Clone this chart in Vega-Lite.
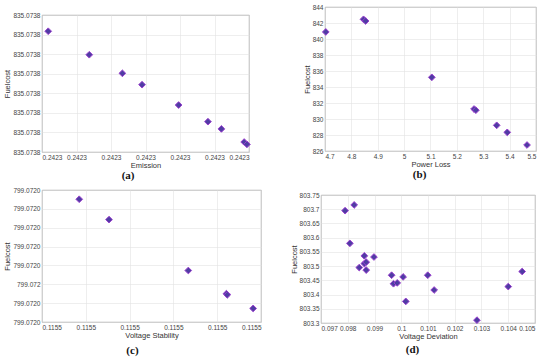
{
  "$schema": "https://vega.github.io/schema/vega-lite/v6.json",
  "padding": {"left": 3, "top": 3, "right": 5, "bottom": 0},
  "background": "white",
  "config": {
    "font": "Liberation Sans",
    "view": {"stroke": "#8a8a8a", "strokeWidth": 0.8},
    "axis": {
      "domain": false,
      "grid": true,
      "gridColor": "#e3e3e3",
      "gridWidth": 0.6,
      "ticks": false,
      "labelFontSize": 6.5,
      "labelColor": "#444",
      "labelPadding": 2,
      "titleFontSize": 7.5,
      "titleFontWeight": "normal",
      "titleColor": "#333",
      "titlePadding": 1
    },
    "title": {"font": "Liberation Serif", "fontSize": 11, "fontWeight": "bold", "color": "#111", "orient": "bottom", "offset": 1, "anchor": "middle"}
  },
  "vconcat": [
    {
      "concat": [
        {
          "title": {"text": "(a)", "orient": "bottom", "anchor": "middle", "offset": 1},
          "vconcat": [
            {"width": 1, "height": 1, "data": {"values": []}, "mark": "point", "view": {"stroke": null}},
            {
              "width": 207,
              "height": 137,
              "data": {"values": [
                {"Emission": 0.242300018, "Fuelcost": 835.07380617},
                {"Emission": 0.242300137, "Fuelcost": 835.07380497},
                {"Emission": 0.242300233, "Fuelcost": 835.07380402},
                {"Emission": 0.24230029, "Fuelcost": 835.07380344},
                {"Emission": 0.242300396, "Fuelcost": 835.0738024},
                {"Emission": 0.242300481, "Fuelcost": 835.07380155},
                {"Emission": 0.24230052, "Fuelcost": 835.07380118},
                {"Emission": 0.242300586, "Fuelcost": 835.07380051},
                {"Emission": 0.242300594, "Fuelcost": 835.07380039}
              ]},
              "mark": {"type": "point", "shape": "diamond", "filled": true, "size": 45, "color": "#4f3da3", "stroke": "#9b3fcf", "strokeWidth": 1, "opacity": 1},
              "encoding": {
                "x": {"field": "Emission", "type": "quantitative", "title": "Emission",
                      "scale": {"domain": [0.2423, 0.2423006], "nice": false, "zero": false},
                      "axis": {"values": [0.2423, 0.2423001, 0.2423002, 0.2423003, 0.2423004, 0.2423005, 0.2423006], "format": ".4f"}},
                "y": {"field": "Fuelcost", "type": "quantitative", "title": "Fuelcost",
                      "scale": {"domain": [835.0738, 835.073807], "nice": false, "zero": false},
                      "axis": {"values": [835.0738, 835.073801, 835.073802, 835.073803, 835.073804, 835.073805, 835.073806, 835.073807], "format": ".4f"}}
              }
            }
          ],
          "spacing": 3
        },
        {
          "title": {"text": "(b)", "orient": "bottom", "anchor": "middle", "offset": 1},
          "vconcat": [
            {
              "width": 211,
              "height": 144,
              "data": {"values": [
                {"PowerLoss": 4.703, "Fuelcost": 840.88},
                {"PowerLoss": 4.846, "Fuelcost": 842.46},
                {"PowerLoss": 4.854, "Fuelcost": 842.25},
                {"PowerLoss": 5.105, "Fuelcost": 835.21},
                {"PowerLoss": 5.265, "Fuelcost": 831.25},
                {"PowerLoss": 5.272, "Fuelcost": 831.1},
                {"PowerLoss": 5.351, "Fuelcost": 829.21},
                {"PowerLoss": 5.391, "Fuelcost": 828.33},
                {"PowerLoss": 5.466, "Fuelcost": 826.75}
              ]},
              "mark": {"type": "point", "shape": "diamond", "filled": true, "size": 45, "color": "#4f3da3", "stroke": "#9b3fcf", "strokeWidth": 1, "opacity": 1},
              "encoding": {
                "x": {"field": "PowerLoss", "type": "quantitative", "title": "Power Loss",
                      "scale": {"domain": [4.7, 5.5], "nice": false, "zero": false},
                      "axis": {"values": [4.7, 4.8, 4.9, 5, 5.1, 5.2, 5.3, 5.4, 5.5], "format": "~g"}},
                "y": {"field": "Fuelcost", "type": "quantitative", "title": "Fuelcost",
                      "scale": {"domain": [826, 844], "nice": false, "zero": false},
                      "axis": {"values": [826, 828, 830, 832, 834, 836, 838, 840, 842, 844], "format": "~g"}}
              }
            }
          ]
        }
      ],
      "columns": 2,
      "align": "none",
      "spacing": 49
    },
    {
      "concat": [
        {
          "title": {"text": "(c)", "orient": "bottom", "anchor": "middle", "offset": 6},
          "vconcat": [
            {
              "width": 219,
              "height": 132,
              "data": {"values": [
                {"VoltageStability": 0.115500085, "Fuelcost": 799.07200651},
                {"VoltageStability": 0.115500153, "Fuelcost": 799.07200543},
                {"VoltageStability": 0.115500334, "Fuelcost": 799.07200273},
                {"VoltageStability": 0.115500421, "Fuelcost": 799.0720015},
                {"VoltageStability": 0.115500423, "Fuelcost": 799.07200144},
                {"VoltageStability": 0.115500482, "Fuelcost": 799.07200072}
              ]},
              "mark": {"type": "point", "shape": "diamond", "filled": true, "size": 45, "color": "#4f3da3", "stroke": "#9b3fcf", "strokeWidth": 1, "opacity": 1},
              "encoding": {
                "x": {"field": "VoltageStability", "type": "quantitative", "title": "Voltage Stability",
                      "scale": {"domain": [0.1155, 0.1155005], "nice": false, "zero": false},
                      "axis": {"values": [0.1155, 0.1155001, 0.1155002, 0.1155003, 0.1155004, 0.1155005], "format": ".4f"}},
                "y": {"field": "Fuelcost", "type": "quantitative", "title": "Fuelcost",
                      "scale": {"domain": [799.072, 799.072007], "nice": false, "zero": false},
                      "axis": {"values": [799.072, 799.072001, 799.072002, 799.072003, 799.072004, 799.072005, 799.072006, 799.072007],
                               "labelExpr": "abs(datum.value - 799.072002) < 0.0000005 ? '799.072' : format(datum.value, '.4f')"}}
              }
            }
          ]
        },
        {
          "title": {"text": "(d)", "orient": "bottom", "anchor": "middle", "offset": 4},
          "vconcat": [
            {"width": 1, "height": 1, "data": {"values": []}, "mark": "point", "view": {"stroke": null}},
            {
              "width": 214,
              "height": 128,
              "data": {"values": [
                {"VoltageDeviation": 0.0979, "Fuelcost": 803.695},
                {"VoltageDeviation": 0.09824, "Fuelcost": 803.715},
                {"VoltageDeviation": 0.09808, "Fuelcost": 803.58},
                {"VoltageDeviation": 0.09843, "Fuelcost": 803.495},
                {"VoltageDeviation": 0.09862, "Fuelcost": 803.536},
                {"VoltageDeviation": 0.09862, "Fuelcost": 803.509},
                {"VoltageDeviation": 0.09869, "Fuelcost": 803.514},
                {"VoltageDeviation": 0.09869, "Fuelcost": 803.486},
                {"VoltageDeviation": 0.09898, "Fuelcost": 803.532},
                {"VoltageDeviation": 0.09964, "Fuelcost": 803.468},
                {"VoltageDeviation": 0.09971, "Fuelcost": 803.438},
                {"VoltageDeviation": 0.09985, "Fuelcost": 803.441},
                {"VoltageDeviation": 0.10007, "Fuelcost": 803.462},
                {"VoltageDeviation": 0.10017, "Fuelcost": 803.376},
                {"VoltageDeviation": 0.10099, "Fuelcost": 803.468},
                {"VoltageDeviation": 0.10123, "Fuelcost": 803.416},
                {"VoltageDeviation": 0.10283, "Fuelcost": 803.31},
                {"VoltageDeviation": 0.104, "Fuelcost": 803.428},
                {"VoltageDeviation": 0.10452, "Fuelcost": 803.481}
              ]},
              "mark": {"type": "point", "shape": "diamond", "filled": true, "size": 45, "color": "#4f3da3", "stroke": "#9b3fcf", "strokeWidth": 1, "opacity": 1},
              "encoding": {
                "x": {"field": "VoltageDeviation", "type": "quantitative", "title": "Voltage Deviation",
                      "scale": {"domain": [0.097, 0.105], "nice": false, "zero": false},
                      "axis": {"values": [0.097, 0.098, 0.099, 0.1, 0.101, 0.102, 0.103, 0.104, 0.105], "format": "~g"}},
                "y": {"field": "Fuelcost", "type": "quantitative", "title": "Fuelcost",
                      "scale": {"domain": [803.3, 803.75], "nice": false, "zero": false},
                      "axis": {"values": [803.3, 803.35, 803.4, 803.45, 803.5, 803.55, 803.6, 803.65, 803.7, 803.75], "format": "~g"}}
              }
            }
          ],
          "spacing": 0
        }
      ],
      "columns": 2,
      "align": "none",
      "spacing": 27
    }
  ],
  "spacing": 4
}
